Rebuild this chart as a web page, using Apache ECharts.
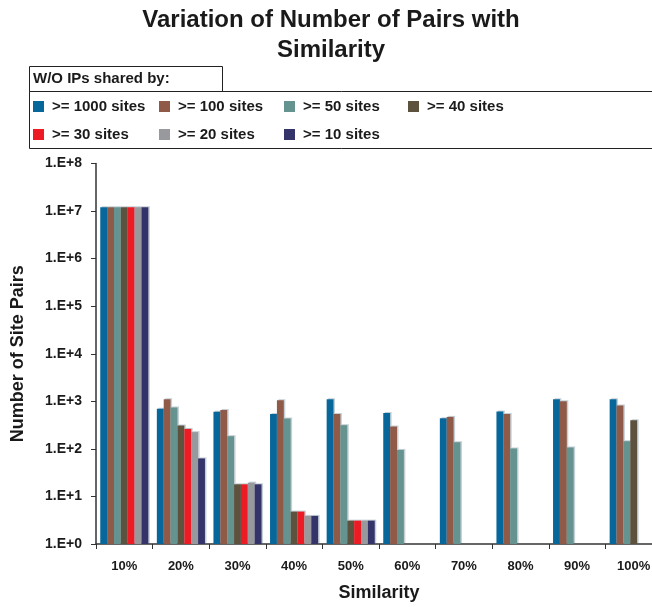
<!DOCTYPE html>
<html>
<head>
<meta charset="utf-8">
<title>Variation of Number of Pairs with Similarity</title>
<script src="https://cdn.jsdelivr.net/npm/echarts@6/dist/echarts.min.js"></script>
<style>
  html, body { margin: 0; padding: 0; background: #fff; }
  #chart { width: 652px; height: 607px; }
</style>
</head>
<body>
<div id="chart"></div>
<script>
const categories = ['10%', '20%', '30%', '40%', '50%', '60%', '70%', '80%', '90%', '100%']
const seriesNames = ['>= 1000 sites', '>= 100 sites', '>= 50 sites', '>= 40 sites', '>= 30 sites', '>= 20 sites', '>= 10 sites']
const seriesColors = ['#07679b', '#8f5a48', '#65938f', '#5d523e', '#ed1c24', '#98999c', '#35346a']

const shared1000 = [1.2e7, 700, 600, 540, 1100, 570, 440, 610, 1100, 1100]
const shared100 = [1.2e7, 1100, 660, 1050, 540, 295, 470, 540, 1000, 820]
const shared50 = [1.2e7, 740, 185, 435, 315, 95, 138, 102, 107, 145]
const shared40 = [1.2e7, 310, 18, 4.8, 3.1, null, null, null, null, 400]
const shared30 = [1.2e7, 263, 18, 4.8, 3.1, null, null, null, null, null]
const shared20 = [1.2e7, 225, 19.5, 3.9, 3.1, null, null, null, null, null]
const shared10 = [1.2e7, 63, 18, 3.9, 3.1, null, null, null, null, null]

const seriesValues = [shared1000, shared100, shared50, shared40, shared30, shared20, shared10]

// legend slot positions: 4 columns, 2 rows
const legendSlots = [
  [33, 99], [159, 99], [284, 99], [408, 99],
  [33, 127], [159, 127], [284, 127]
]

const font = '"Liberation Sans", Arial, sans-serif'

function buildLegends() {
  return seriesNames.map((name, i) => ({
    left: legendSlots[i][0],
    top: legendSlots[i][1],
    padding: 0,
    itemWidth: 11,
    itemHeight: 11,
    icon: 'rect',
    selectedMode: false,
    data: [name],
    textStyle: {
      color: '#1a1a1a',
      fontFamily: font,
      fontWeight: 'bold',
      fontSize: 15,
      padding: [0, 0, 0, 3]
    }
  }))
}

function buildSeries() {
  return seriesNames.map((name, i) => ({
    name,
    type: 'bar',
    barGap: '0%',
    barCategoryGap: '15%',
    itemStyle: {
      color: seriesColors[i],
      shadowColor: 'rgba(150, 170, 180, 0.55)',
      shadowOffsetX: 1.5,
      shadowOffsetY: -1
    },
    data: seriesValues[i]
  }))
}

const chart = echarts.init(document.getElementById('chart'))

chart.setOption({
  animation: false,
  title: {
    text: 'Variation of Number of Pairs with\nSimilarity',
    left: 326,
    textAlign: 'center',
    top: 0,
    textStyle: {
      fontFamily: font,
      fontWeight: 'bold',
      fontSize: 24,
      lineHeight: 30,
      color: '#1a1a1a'
    }
  },
  legend: buildLegends(),
  graphic: [
    {
      type: 'rect',
      shape: { x: 29.5, y: 66.5, width: 193, height: 25 },
      style: { fill: 'none', stroke: '#222', lineWidth: 1 }
    },
    {
      type: 'rect',
      shape: { x: 29.5, y: 91.5, width: 640, height: 57 },
      style: { fill: 'none', stroke: '#222', lineWidth: 1 }
    },
    {
      type: 'text',
      left: 33,
      top: 71,
      style: {
        text: 'W/O IPs shared by:',
        fontFamily: font,
        fontWeight: 'bold',
        fontSize: 15,
        fill: '#1a1a1a'
      }
    }
  ],
  grid: {
    left: 96,
    right: -10,
    top: 163.5,
    bottom: 63,
    outerBoundsMode: 'none',
    containLabel: false
  },
  xAxis: {
    type: 'category',
    data: categories,
    name: 'Similarity',
    nameLocation: 'middle',
    nameGap: 40,
    nameTextStyle: {
      fontFamily: font,
      fontWeight: 'bold',
      fontSize: 18,
      color: '#1a1a1a'
    },
    axisLine: { lineStyle: { color: '#333', width: 1.5 } },
    axisTick: { show: true, length: 5, lineStyle: { color: '#333' } },
    axisLabel: {
      margin: 16,
      fontFamily: font,
      fontWeight: 'bold',
      fontSize: 13,
      color: '#1a1a1a'
    }
  },
  yAxis: {
    type: 'log',
    logBase: 10,
    min: 1,
    max: 1e8,
    name: 'Number of Site Pairs',
    nameLocation: 'middle',
    nameGap: 69,
    nameTextStyle: {
      fontFamily: font,
      fontWeight: 'bold',
      fontSize: 18,
      color: '#1a1a1a'
    },
    axisLine: { show: true, lineStyle: { color: '#333', width: 1.5 } },
    axisTick: { show: true, length: 5, lineStyle: { color: '#333' } },
    minorTick: { show: false },
    splitLine: { show: false },
    axisLabel: {
      margin: 14,
      fontFamily: font,
      fontWeight: 'bold',
      fontSize: 14,
      color: '#1a1a1a',
      formatter: (value) => '1.E+' + Math.round(Math.log10(value))
    }
  },
  series: buildSeries()
})
</script>
</body>
</html>
